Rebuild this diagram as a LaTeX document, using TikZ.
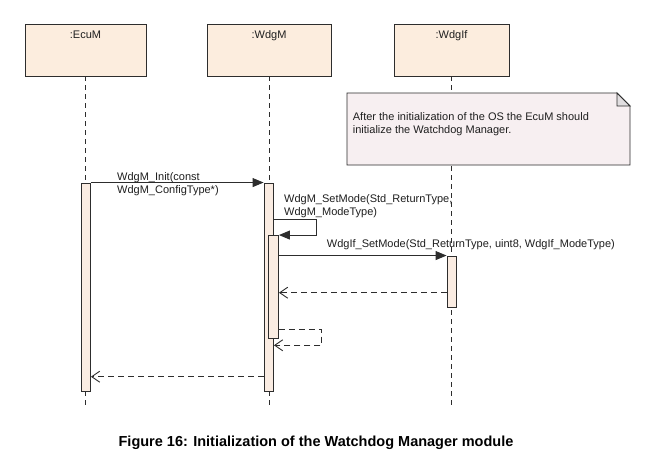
\documentclass[tikz,border=0pt]{standalone}
\usepackage{fontspec}
\setmainfont{Liberation Sans}
\usetikzlibrary{arrows.meta,calc}
\definecolor{boxfill}{RGB}{252,237,222}
\definecolor{actfill}{RGB}{250,236,226}
\definecolor{notefill}{RGB}{247,239,241}
\definecolor{foldfill}{RGB}{225,222,224}
\definecolor{ink}{RGB}{45,45,45}
\begin{document}
\begin{tikzpicture}[x=1pt,y=-1pt,
  actor/.style={draw=ink, fill=boxfill, line width=0.9pt, minimum height=52pt, inner sep=0pt},
  lifeline/.style={draw=ink, line width=0.8pt, dash pattern=on 5pt off 4pt},
  act/.style={draw=ink, fill=actfill, line width=0.9pt, minimum width=9.5pt, inner sep=0pt},
  txt/.style={font=\fontsize{11}{13}\selectfont, inner sep=0pt, align=left, text=black!88},
  call/.style={draw=ink, line width=0.9pt, -{Triangle[length=11pt,width=9pt]}},
  ret/.style={draw=ink, line width=0.9pt, dash pattern=on 6pt off 4pt, -{Straight Barb[length=8pt,width=11pt]}},
  notebox/.style={draw=ink, fill=notefill, line width=0.9pt}
]
\useasboundingbox (0,0) rectangle (650,466);
\fill[white] (0,0) rectangle (650,466);

% actors
\node[actor, minimum width=121pt] (ecum) at (85.5,50) {};
\node[actor, minimum width=124pt] (wdgm) at (269,50) {};
\node[actor, minimum width=115pt] (wdgif) at (451.5,50) {};
\node[txt, anchor=base] (ecumlbl) at ($(ecum.north)+(0,15)$) {:EcuM};
\node[txt, anchor=base] (wdgmlbl) at ($(wdgm.north)+(0,15)$) {:WdgM};
\node[txt, anchor=base] (wdgiflbl) at ($(wdgif.north)+(0,15)$) {:WdgIf};

% lifelines
\coordinate (bottom) at (0,408);
\draw[lifeline] (ecum.south) -- (ecum.south |- bottom);
\draw[lifeline] (wdgm.south) -- (wdgm.south |- bottom);
\draw[lifeline] (wdgif.south) -- (wdgif.south |- bottom);

% note
\draw[notebox] (347,93) -- (617,93) -- (630,106) -- (630,165) -- (347,165) -- cycle;
\draw[draw=ink, fill=foldfill, line width=0.9pt] (617,93) -- (617,106) -- (630,106) -- cycle;
\node[txt, anchor=north west] (notetxt) at (352.7,112.5)
  {After the initialization of the OS the EcuM should\\initialize the Watchdog Manager.};

% activations
\node[act, minimum height=208.5pt] (ecumact) at (85.75,287.25) {};
\node[act, minimum height=208.5pt] (wdgmact) at (268.75,287.25) {};
\node[act, minimum width=10pt, minimum height=102.5pt] (nest) at (273.5,286.75) {};
\node[act, minimum height=51pt] (ifact) at (451.75,281.5) {};

% messages
\draw[call] (ecumact.north east) -- (wdgmact.north west);
\node[txt, anchor=north west] (initlbl) at (117,172.7) {WdgM\_Init(const\\WdgM\_ConfigType*)};

\coordinate (selfx) at (316.7,219.3);
\coordinate (s1) at (wdgmact.east |- selfx);
\draw[call] (s1) -- (selfx) -- (selfx |- nest.north east) -- (nest.north east);
\node[txt, anchor=north west] (setlbl) at (284,194.3) {WdgM\_SetMode(Std\_ReturnType,\\WdgM\_ModeType)};

\draw[call] (nest.east |- ifact.north west) -- (ifact.north west);
\node[txt, anchor=base west] (iflbl) at (326.7,247) {WdgIf\_SetMode(Std\_ReturnType, uint8, WdgIf\_ModeType)};

\coordinate (y1) at (0,292.7);
\draw[ret] (ifact.west |- y1) -- (nest.east |- y1);

\coordinate (y2) at (321.7,329.3);
\coordinate (y3) at (321.7,345.3);
\draw[ret] (nest.east |- y2) -- (y2) -- (y3) -- (wdgmact.east |- y3);

\coordinate (y4) at (0,376.7);
\draw[ret] (wdgmact.west |- y4) -- (ecumact.east |- y4);

% caption
\node[inner sep=0pt, anchor=base, font=\fontsize{14.5}{17}\selectfont\bfseries] (caption) at (316,446)
  {Figure 16: Initialization of the Watchdog Manager module};
\end{tikzpicture}
\end{document}
